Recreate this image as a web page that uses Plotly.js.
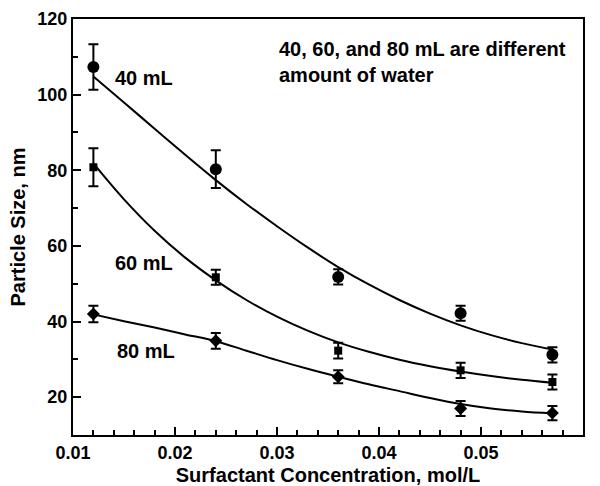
<!DOCTYPE html>
<html>
<head>
<meta charset="utf-8">
<script src="https://cdn.plot.ly/plotly-3.0.1.min.js"></script>
<style>html,body{margin:0;padding:0;background:#fff;}#chart{width:600px;height:486px;}</style>
</head>
<body>
<div id="chart"></div>
<script>
// measured data
const conc = [0.012, 0.024, 0.036, 0.048, 0.057];
const size40 = [107.3, 80.3, 51.8, 42.2, 31.2];
const err40 = [6.0, 5.0, 2.0, 2.0, 2.0];
const size60 = [80.8, 51.7, 32.3, 27.1, 24.0];
const err60 = [5.0, 2.0, 2.1, 2.0, 2.0];
const size80 = [42.0, 34.9, 25.4, 17.0, 15.8];
const err80 = [2.2, 2.1, 1.7, 2.0, 1.9];

// fitted curves
const fitX = [0.012, 0.015, 0.018, 0.021, 0.024, 0.027, 0.030, 0.033, 0.036, 0.039, 0.042, 0.045, 0.048, 0.051, 0.054, 0.057];
const fit40 = [104.8, 97.9, 91.0, 84.1, 77.4, 71.1, 65.2, 59.6, 54.4, 49.8, 45.7, 42.1, 39.0, 36.4, 34.3, 32.6];
const fit60 = [81.8, 72.3, 64.0, 56.9, 50.9, 45.7, 41.3, 37.6, 34.5, 32.0, 29.9, 28.2, 26.8, 25.6, 24.6, 23.8];
const fit80 = [41.9, 40.1, 38.4, 36.6, 34.8, 32.3, 29.8, 27.5, 25.4, 23.4, 21.6, 19.8, 18.2, 17.0, 16.2, 15.7];

const xTickVals = [0.01, 0.02, 0.03, 0.04, 0.05, 0.06];
const xTickText = ['0.01', '0.02', '0.03', '0.04', '0.05', '0.06'];
const yTickVals = [20, 40, 60, 80, 100, 120];

const FONT = 'Liberation Sans, Arial, Helvetica, sans-serif';

function fitTrace(y) {
  return {x: fitX, y: y, mode: 'lines', line: {color: 'black', width: 2, shape: 'spline', smoothing: 1}, hoverinfo: 'skip', showlegend: false};
}
function ptTrace(y, e, sym, sz) {
  return {x: conc, y: y, mode: 'markers', marker: {symbol: sym, size: sz, color: 'black'},
    error_y: {type: 'data', array: e, visible: true, color: 'black', thickness: 2, width: 5}, showlegend: false};
}

const data = [
  fitTrace(fit40), fitTrace(fit60), fitTrace(fit80),
  ptTrace(size40, err40, 'circle', 12),
  ptTrace(size60, err60, 'square', 8),
  ptTrace(size80, err80, 'diamond', 10)
];

const axisCommon = {
  showline: true, linecolor: 'black', linewidth: 2, mirror: true,
  ticks: 'inside', ticklen: 8, tickwidth: 2, tickcolor: 'black',
  showgrid: false, zeroline: false,
  tickfont: {family: FONT, size: 18, color: 'black', weight: 'bold'}
};

const layout = {
  width: 600, height: 486,
  margin: {l: 73, r: 17, t: 19, b: 51},
  paper_bgcolor: 'white', plot_bgcolor: 'white',
  showlegend: false,
  xaxis: Object.assign({}, axisCommon, {
    range: [0.01, 0.06], tickvals: xTickVals, ticktext: xTickText,
    minor: {dtick: 0.002, ticks: 'inside', ticklen: 5, tickwidth: 2, tickcolor: 'black', showgrid: false},
    title: {text: 'Surfactant Concentration, mol/L', font: {family: FONT, size: 20, color: 'black', weight: 'bold'}, standoff: 10}
  }),
  yaxis: Object.assign({}, axisCommon, {
    range: [10, 120], tickvals: yTickVals,
    minor: {dtick: 10, tick0: 0, ticks: 'inside', ticklen: 5, tickwidth: 2, tickcolor: 'black', showgrid: false},
    title: {text: 'Particle Size, nm', font: {family: FONT, size: 20, color: 'black', weight: 'bold'}, standoff: 6}
  }),
  annotations: [
    {xref: 'x', yref: 'y', x: 0.0139, y: 104.3, xanchor: 'left', yanchor: 'middle', showarrow: false, text: '40 mL',
     font: {family: FONT, size: 20, color: 'black', weight: 'bold'}},
    {xref: 'x', yref: 'y', x: 0.0139, y: 55.5, xanchor: 'left', yanchor: 'middle', showarrow: false, text: '60 mL',
     font: {family: FONT, size: 20, color: 'black', weight: 'bold'}},
    {xref: 'x', yref: 'y', x: 0.0141, y: 32.2, xanchor: 'left', yanchor: 'middle', showarrow: false, text: '80 mL',
     font: {family: FONT, size: 20, color: 'black', weight: 'bold'}},
    {xref: 'x', yref: 'y', x: 0.0300, y: 108.7, xanchor: 'left', yanchor: 'middle', align: 'left', showarrow: false,
     text: '40, 60, and 80 mL are different<br>amount of water',
     font: {family: FONT, size: 20, color: 'black', weight: 'bold'}}
  ]
};

Plotly.newPlot('chart', data, layout, {displayModeBar: false, staticPlot: true});
</script>
</body>
</html>
